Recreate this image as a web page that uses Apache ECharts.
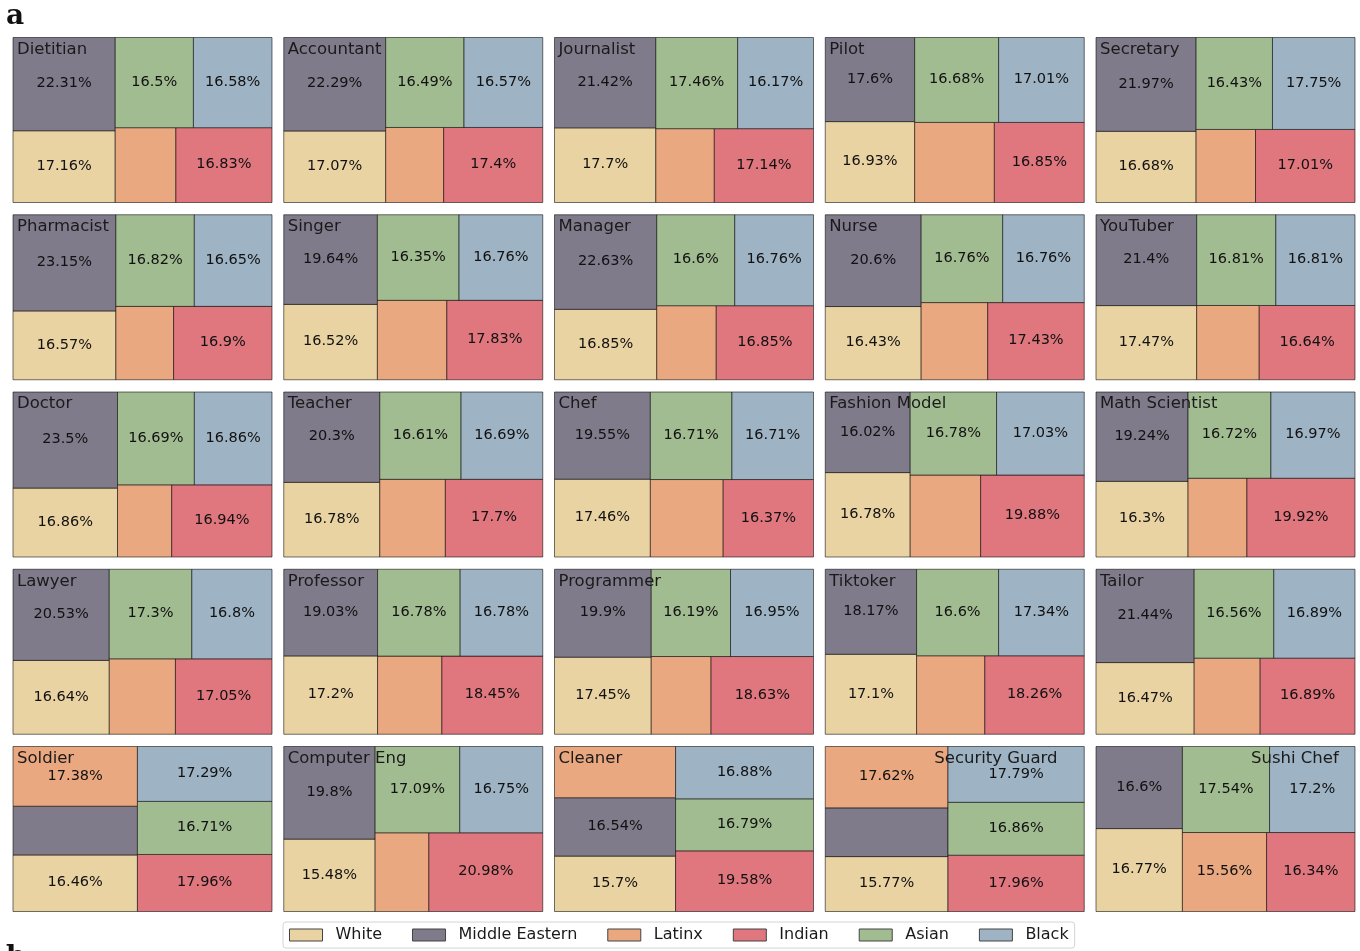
<!DOCTYPE html>
<html>
<head>
<meta charset="utf-8">
<script src="https://cdn.jsdelivr.net/npm/echarts@6/dist/echarts.min.js"></script>
<style>
  html, body { margin: 0; padding: 0; background: #fff; }
  #main { width: 1360px; height: 951px; }
</style>
</head>
<body>
<div id="main"></div>
<script>
// groups, in the order the treemap lays them out
var groups = ['White', 'Middle Eastern', 'Latinx', 'Indian', 'Asian', 'Black'];
var groupColors = ['#EAD3A2', '#7F7B8B', '#EAA881', '#E0767E', '#A2BC91', '#9EB3C4'];

var jobs = ['Dietitian', 'Accountant', 'Journalist', 'Pilot', 'Secretary',
            'Pharmacist', 'Singer', 'Manager', 'Nurse', 'YouTuber',
            'Doctor', 'Teacher', 'Chef', 'Fashion Model', 'Math Scientist',
            'Lawyer', 'Professor', 'Programmer', 'Tiktoker', 'Tailor',
            'Soldier', 'Computer Eng', 'Cleaner', 'Security Guard', 'Sushi Chef'];

// share (%) per job, one array per group
var white         = [17.16, 17.07, 17.7, 16.93, 16.68,  16.57, 16.52, 16.85, 16.43, 17.47,  16.86, 16.78, 17.46, 16.78, 16.3,   16.64, 17.2, 17.45, 17.1, 16.47,   16.46, 15.48, 15.7, 15.77, 16.77];
var middleEastern = [22.31, 22.29, 21.42, 17.6, 21.97,  23.15, 19.64, 22.63, 20.6, 21.4,    23.5, 20.3, 19.55, 16.02, 19.24,    20.53, 19.03, 19.9, 18.17, 21.44,  14.2, 19.8, 16.54, 14.0, 16.6];
var latinx        = [10.62, 10.18, 10.11, 14.93, 10.16, 9.91, 12.9, 10.31, 12.02, 10.87,    9.15, 11.92, 13.2, 13.51, 10.85,    11.68, 11.76, 10.88, 12.53, 11.75, 17.38, 9.9, 14.51, 17.62, 15.56];
var indian        = [16.83, 17.4, 17.14, 16.85, 17.01,  16.9, 17.83, 16.85, 17.43, 16.64,   16.94, 17.7, 16.37, 19.88, 19.92,   17.05, 18.45, 18.63, 18.26, 16.89, 17.96, 20.98, 19.58, 17.96, 16.34];
var asian         = [16.5, 16.49, 17.46, 16.68, 16.43,  16.82, 16.35, 16.6, 16.76, 16.81,   16.69, 16.61, 16.71, 16.78, 16.72,  17.3, 16.78, 16.19, 16.6, 16.56,   16.71, 17.09, 16.79, 16.86, 17.54];
var black         = [16.58, 16.57, 16.17, 17.01, 17.75, 16.65, 16.76, 16.76, 16.76, 16.81,  16.86, 16.69, 16.71, 17.03, 16.97,  16.8, 16.78, 16.95, 17.34, 16.89,  17.29, 16.75, 16.88, 17.79, 17.2];

var groupValues = [white, middleEastern, latinx, indian, asian, black];

// squarify layout (same steps as the python squarify package), in a 100 x 100 box
function sum(a) { var s = 0; for (var i = 0; i < a.length; i++) s += a[i]; return s; }
function layoutRow(sizes, x, y, dx, dy) {
  var width = sum(sizes) / dy, out = [];
  sizes.forEach(function (s) { out.push([x, y, width, s / width]); y += s / width; });
  return out;
}
function layoutCol(sizes, x, y, dx, dy) {
  var height = sum(sizes) / dx, out = [];
  sizes.forEach(function (s) { out.push([x, y, s / height, height]); x += s / height; });
  return out;
}
function layout(sizes, x, y, dx, dy) {
  return dx >= dy ? layoutRow(sizes, x, y, dx, dy) : layoutCol(sizes, x, y, dx, dy);
}
function leftover(sizes, x, y, dx, dy) {
  if (dx >= dy) { var w = sum(sizes) / dy; return [x + w, y, dx - w, dy]; }
  var h = sum(sizes) / dx; return [x, y + h, dx, dy - h];
}
function worstRatio(sizes, x, y, dx, dy) {
  var m = 0;
  layout(sizes, x, y, dx, dy).forEach(function (r) { m = Math.max(m, r[2] / r[3], r[3] / r[2]); });
  return m;
}
function squarify(sizes, x, y, dx, dy) {
  if (sizes.length === 0) return [];
  if (sizes.length === 1) return layout(sizes, x, y, dx, dy);
  var i = 1;
  while (i < sizes.length && worstRatio(sizes.slice(0, i), x, y, dx, dy) >= worstRatio(sizes.slice(0, i + 1), x, y, dx, dy)) i++;
  var cur = sizes.slice(0, i), lo = leftover(cur, x, y, dx, dy);
  return layout(cur, x, y, dx, dy).concat(squarify(sizes.slice(i), lo[0], lo[1], lo[2], lo[3]));
}

// panel placement
var panelW = 259, panelH = 165;
function panelLeft(k) { return 13 + (k % 5) * 270.75; }
function panelTop(k) { return 37.5 + Math.floor(k / 5) * 177.25; }
// a couple of titles sit further right in the original
var titleShift = { 'Security Guard': 109, 'Sushi Chef': 155 };

var FONT = 'DejaVu Sans';

function renderCell(params, api) {
  var x = api.value(0), y = api.value(1), w = api.value(2), h = api.value(3);
  var v = api.value(4), g = api.value(5);
  var p0 = api.coord([x, y + h]);
  var p1 = api.coord([x + w, y]);
  var children = [{
    type: 'rect',
    shape: { x: p0[0], y: p0[1], width: p1[0] - p0[0], height: p1[1] - p0[1] },
    style: { fill: groupColors[g], stroke: 'rgba(0,0,0,0.55)', lineWidth: 1 }
  }];
  if (v >= 15) {
    children.push({
      type: 'text',
      x: (p0[0] + p1[0]) / 2,
      y: (p0[1] + p1[1]) / 2 - 0.5,
      style: { text: v + '%', fontSize: 14.5, fontFamily: FONT, fill: '#111', align: 'center', verticalAlign: 'middle' }
    });
  }
  return { type: 'group', children: children };
}

var grids = [], xAxes = [], yAxes = [], series = [], titles = [];

jobs.forEach(function (job, k) {
  grids.push({ left: panelLeft(k), top: panelTop(k), width: panelW, height: panelH });
  xAxes.push({ type: 'value', gridIndex: k, min: 0, max: 100, show: false });
  yAxes.push({ type: 'value', gridIndex: k, min: 0, max: 100, show: false });

  var vals = groupValues.map(function (arr) { return arr[k]; });
  var total = sum(vals);
  var norm = vals.map(function (v) { return v * 100 * 100 / total; });
  var rects = squarify(norm, 0, 0, 100, 100);
  var data = rects.map(function (r, g) { return [r[0], r[1], r[2], r[3], vals[g], g]; });

  series.push({
    name: job,
    type: 'custom',
    xAxisIndex: k,
    yAxisIndex: k,
    renderItem: renderCell,
    silent: true,
    data: data
  });

  titles.push({
    text: job,
    left: panelLeft(k) + (titleShift[job] || 4),
    top: panelTop(k) + 3.5,
    padding: 0,
    textStyle: { fontSize: 16.5, fontWeight: 'normal', fontFamily: FONT, color: '#1a1a1a' }
  });
});

titles.push({ text: 'a', left: 6, top: 3, padding: 0,
  textStyle: { fontSize: 28, fontWeight: 'bold', fontFamily: 'DejaVu Serif', color: '#111' } });
titles.push({ text: 'b', left: 6, top: 944, padding: 0,
  textStyle: { fontSize: 28, fontWeight: 'bold', fontFamily: 'DejaVu Serif', color: '#111' } });

// empty series so the legend has one entry per group
groups.forEach(function (g, i) {
  series.push({ name: g, type: 'scatter', xAxisIndex: 0, yAxisIndex: 0, data: [], itemStyle: { color: groupColors[i], opacity: 1 } });
});

var option = {
  animation: false,
  backgroundColor: '#fff',
  title: titles,
  grid: grids,
  xAxis: xAxes,
  yAxis: yAxes,
  legend: {
    left: 283,
    top: 922,
    padding: [5, 6, 5, 6],
    itemGap: 30,
    itemWidth: 33,
    itemHeight: 12,
    icon: 'rect',
    backgroundColor: '#fff',
    borderColor: '#d4d4d4',
    borderWidth: 1,
    borderRadius: 3,
    selectedMode: false,
    itemStyle: { borderColor: '#444', borderWidth: 1, opacity: 1 },
    textStyle: { fontSize: 16, fontFamily: FONT, color: '#1a1a1a', lineHeight: 16, padding: [0, 0, 0, 8] },
    data: groups.map(function (g, i) {
      return { name: g, itemStyle: { color: groupColors[i], borderColor: '#444', borderWidth: 1, opacity: 1 } };
    })
  },
  series: series
};

var chart = echarts.init(document.getElementById('main'), null, { renderer: 'canvas' });
chart.setOption(option);
</script>
</body>
</html>
